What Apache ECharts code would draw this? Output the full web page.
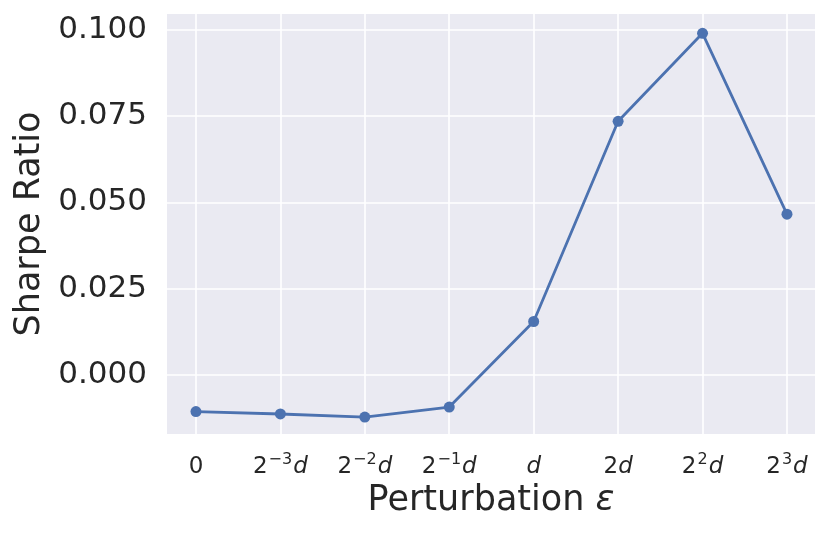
<!DOCTYPE html>
<html>
<head>
<meta charset="utf-8">
<script src="https://cdn.jsdelivr.net/npm/echarts@6/dist/echarts.min.js"></script>
<style>
  html, body { margin: 0; padding: 0; background: #fff; }
  #chart { width: 831px; height: 534px; }
</style>
</head>
<body>
<div id="chart"></div>
<script>
// x positions are just the index of each perturbation level
const levels = [0, 1, 2, 3, 4, 5, 6, 7]
// tick labels: [base, exponent, has d]
const tickParts = [
  ['0', '', false],
  ['2', '−3', true],
  ['2', '−2', true],
  ['2', '−1', true],
  ['', '', true],
  ['2', '', true],
  ['2', '2', true],
  ['2', '3', true],
]
const sharpe = [-0.0106, -0.0113, -0.0122, -0.0093, 0.0155, 0.0735, 0.0990, 0.0466]
const yTicks = [0, 0.025, 0.05, 0.075, 0.1]

const font = 'DejaVu Sans'
const blue = '#4c72b0'
const ink = '#262626'

let chart = echarts.init(document.getElementById('chart'))
chart.setOption({
  animation: false,
  grid: {
    left: 167, right: 16, top: 14, bottom: 100,
    show: true,
    backgroundColor: '#eaeaf2',
    borderWidth: 0,
  },
  xAxis: {
    type: 'value',
    min: -0.343,
    max: 7.332,
    name: 'Perturbation {e|ε}',
    nameLocation: 'middle',
    nameGap: 46,
    nameTextStyle: {
      fontFamily: font, fontSize: 35, color: ink,
      rich: { e: { fontFamily: font, fontSize: 35, fontStyle: 'italic', color: ink } },
    },
    axisLine: { show: false },
    axisTick: { show: false, customValues: levels },
    splitLine: { show: true, lineStyle: { color: '#ffffff', width: 1.6 } },
    axisLabel: {
      customValues: levels,
      margin: 18,
      fontFamily: font,
      fontSize: 23,
      color: ink,
      formatter: function (v) {
        let p = tickParts[Math.round(v)]
        let s = ''
        if (p[0]) s += '{b|' + p[0] + '}'
        if (p[1]) s += '{s|' + p[1] + '}'
        if (p[2]) s += '{i|d}'
        return s
      },
      rich: {
        b: { fontFamily: font, fontSize: 23, color: ink, lineHeight: 27, verticalAlign: 'bottom' },
        s: { fontFamily: font, fontSize: 16, color: ink, lineHeight: 27, verticalAlign: 'top', padding: [0, 1, 0, 1] },
        i: { fontFamily: font, fontSize: 23, fontStyle: 'italic', color: ink, lineHeight: 27, verticalAlign: 'bottom' },
      },
    },
  },
  yAxis: {
    type: 'value',
    min: -0.0171,
    max: 0.1046,
    name: 'Sharpe Ratio',
    nameLocation: 'middle',
    nameGap: 137,
    nameRotate: 90,
    nameTextStyle: { fontFamily: font, fontSize: 35, color: ink, verticalAlign: 'middle' },
    axisLine: { show: false },
    axisTick: { show: false, customValues: yTicks },
    splitLine: { show: true, lineStyle: { color: '#ffffff', width: 1.6 } },
    axisLabel: {
      customValues: yTicks,
      margin: 20,
      padding: [6, 0, 0, 0],
      fontFamily: font,
      fontSize: 31,
      color: ink,
      formatter: v => v.toFixed(3),
    },
  },
  series: [
    {
      type: 'line',
      data: levels.map((x, i) => [x, sharpe[i]]),
      symbol: 'circle',
      symbolSize: 11,
      lineStyle: { color: blue, width: 2.8 },
      itemStyle: { color: blue },
    },
  ],
})
</script>
</body>
</html>
